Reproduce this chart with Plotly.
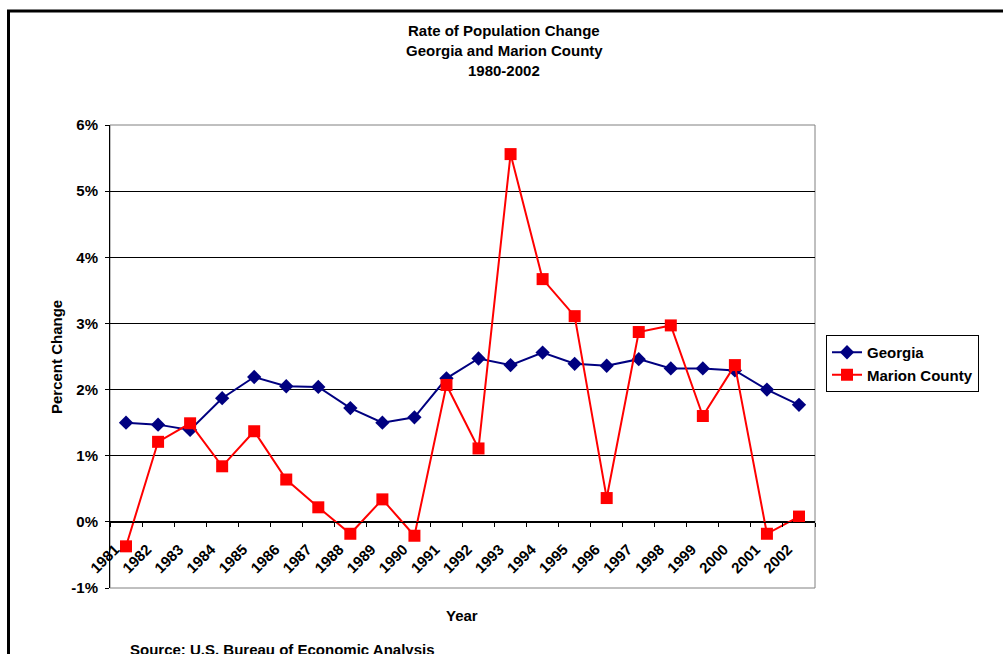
import plotly.graph_objects as go

years = [str(y) for y in range(1981, 2003)]
georgia = [1.50, 1.47, 1.39, 1.87, 2.19, 2.05, 2.04, 1.72, 1.50, 1.58, 2.17,
           2.47, 2.37, 2.56, 2.39, 2.36, 2.46, 2.32, 2.32, 2.29, 2.00, 1.77]
marion = [-0.37, 1.21, 1.49, 0.84, 1.37, 0.64, 0.22, -0.18, 0.34, -0.21, 2.07,
          1.11, 5.56, 3.67, 3.11, 0.36, 2.87, 2.97, 1.60, 2.37, -0.18, 0.08]
y_tick_vals = [-1, 0, 1, 2, 3, 4, 5, 6]
y_tick_text = ["-1%", "0%", "1%", "2%", "3%", "4%", "5%", "6%"]
title_lines = ["Rate of Population Change", "Georgia and Marion County", "1980-2002"]

FONT = "Liberation Sans, Arial, sans-serif"
W, H = 1003, 654
L, R, T, B = 110, 815, 125, 588
pw, ph = R - L, B - T

def px(x):
    return (x - L) / pw

def py(y):
    return (B - y) / ph

fig = go.Figure()
fig.add_trace(go.Scatter(
    x=years, y=georgia, name="Georgia", mode="lines+markers",
    line=dict(color="#000080", width=2),
    marker=dict(symbol="diamond", size=11, color="#000080"),
))
fig.add_trace(go.Scatter(
    x=years, y=marion, name="Marion County", mode="lines+markers",
    line=dict(color="#FF0000", width=2),
    marker=dict(symbol="square", size=12, color="#FF0000"),
))

annotations = []
for i, t in enumerate(title_lines):
    annotations.append(dict(
        text=t, x=px(504), y=py(30 + 20 * i), xref="paper", yref="paper",
        showarrow=False, xanchor="center", yanchor="middle",
        font=dict(size=15, family=FONT, color="black", weight="bold"),
    ))
annotations.append(dict(
    text="Percent Change", x=px(56), y=py(357), xref="paper", yref="paper",
    showarrow=False, textangle=-90, xanchor="center", yanchor="middle",
    font=dict(size=15, family=FONT, color="black", weight="bold"),
))
annotations.append(dict(
    text="Year", x=px(462), y=py(615), xref="paper", yref="paper",
    showarrow=False, xanchor="center", yanchor="middle",
    font=dict(size=15, family=FONT, color="black", weight="bold"),
))
annotations.append(dict(
    text="Source: U.S. Bureau of Economic Analysis", x=px(128), y=py(649),
    xref="paper", yref="paper", showarrow=False, xanchor="left", yanchor="middle",
    font=dict(size=15, family=FONT, color="black", weight="bold"),
))

shapes = [
    # plot area border
    dict(type="rect", xref="paper", yref="paper", x0=0, y0=0, x1=1, y1=1,
         line=dict(color="#808080", width=1), layer="below"),
    # outer chart frame
    dict(type="rect", xref="paper", yref="paper",
         x0=px(8.5), y0=py(11), x1=px(1015), y1=py(670),
         line=dict(color="black", width=3)),
]

fig.update_layout(
    width=W, height=H,
    margin=dict(l=L, r=W - R, t=T, b=H - B),
    paper_bgcolor="white", plot_bgcolor="white",
    font=dict(family=FONT, size=15, color="black", weight="bold"),
    showlegend=True,
    legend=dict(
        x=px(826), y=py(335), xanchor="left", yanchor="top",
        bordercolor="black", borderwidth=1, bgcolor="white",
        font=dict(size=15, family=FONT, color="black", weight="bold"),
    ),
    annotations=annotations,
    shapes=shapes,
    xaxis=dict(
        type="category", range=[-0.5, 21.5], anchor="free", position=1 / 7,
        showline=True, linecolor="black", linewidth=1,
        showgrid=False, ticks="outside", ticklen=4, tickcolor="black",
        tickson="boundaries", tickangle=-45,
        ticklabelstandoff=12, ticklabelshift=-11,
        tickfont=dict(size=15, family=FONT, color="black", weight="bold"),
    ),
    yaxis=dict(
        range=[-1, 6], tickvals=y_tick_vals, ticktext=y_tick_text,
        showgrid=True, gridcolor="black", gridwidth=1,
        zeroline=True, zerolinecolor="black", zerolinewidth=1,
        showline=True, linecolor="black", linewidth=1,
        ticks="outside", ticklen=4, tickcolor="black", ticklabelstandoff=4,
        tickfont=dict(size=15, family=FONT, color="black", weight="bold"),
        domain=[0, 1],
    ),
)

fig.write_html(
    "out.html",
    config={"displayModeBar": False},
    post_script="document.body.style.margin='0';document.body.style.overflow='hidden';",
)
